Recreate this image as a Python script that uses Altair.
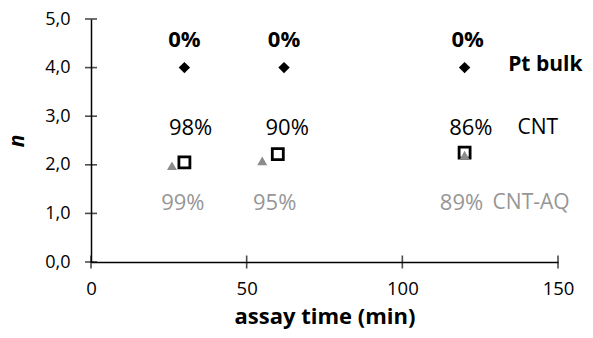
import altair as alt
import pandas as pd

# --- data ---
pt_x = [30, 62, 120]
pt_y = [4.0, 4.0, 4.0]
cnt_x = [30, 60, 120]
cnt_y = [2.05, 2.22, 2.25]
aq_x = [26, 55, 120]
aq_y = [1.98, 2.08, 2.20]

pt_pct = ["0%", "0%", "0%"]
pt_lab_x = [30, 62, 121]
pt_lab_y = [4.57, 4.57, 4.57]
cnt_pct = ["98%", "90%", "86%"]
cnt_lab_x = [32, 63, 122]
cnt_lab_y = [2.76, 2.76, 2.76]
aq_pct = ["99%", "95%", "89%"]
aq_lab_x = [29.5, 59, 119]
aq_lab_y = [1.21, 1.21, 1.21]

series_names = ["Pt bulk", "CNT", "CNT-AQ"]
name_x = [134, 137, 129]
name_y = [4.05, 2.76, 1.21]

x_ticks = [0, 50, 100, 150]
y_ticks = [0, 1, 2, 3, 4, 5]

FONT = "Open Sans"
GRAY = "#8c8c8c"
TGRAY = "#969696"

xs = alt.Scale(domain=[0, 150], nice=False)
ys = alt.Scale(domain=[0, 5], nice=False)

x_axis = alt.Axis(values=x_ticks, title="assay time (min)", grid=False, ticks=False,
                  domainColor="black", domainWidth=1.5, labelFont=FONT,
                  labelFontSize=18.5, labelColor="black", labelPadding=17,
                  titleFont=FONT, titleFontSize=22, titleFontWeight="bold",
                  titleColor="black", titlePadding=9, labelFlush=False)
y_axis = alt.Axis(values=y_ticks, title="n", grid=False, ticks=False,
                  labelExpr="replace(format(datum.value, '.1f'), '.', ',')",
                  domainColor="black", domainWidth=1.5, labelFont=FONT,
                  labelFontSize=18, labelColor="black", labelPadding=21,
                  titleFont=FONT, titleFontSize=21, titleFontWeight="bold",
                  titleFontStyle="italic", titleColor="black", titlePadding=17,
                  labelFlush=False)

pt_df = pd.DataFrame({"x": pt_x, "y": pt_y})
cnt_df = pd.DataFrame({"x": cnt_x, "y": cnt_y})
aq_df = pd.DataFrame({"x": aq_x, "y": aq_y})
yt_df = pd.DataFrame({"y": y_ticks, "x": [0] * len(y_ticks)})
xt_df = pd.DataFrame({"x": x_ticks, "y": [0] * len(x_ticks)})


def X():
    return alt.X("x:Q", scale=xs)


def Y():
    return alt.Y("y:Q", scale=ys)


pt_pts = alt.Chart(pt_df).mark_point(shape="diamond", filled=True, color="black",
                                     size=130, opacity=1).encode(
    x=alt.X("x:Q", scale=xs, axis=x_axis), y=alt.Y("y:Q", scale=ys, axis=y_axis))
cnt_pts = alt.Chart(cnt_df).mark_point(shape="square", filled=False, color="black",
                                       strokeWidth=2.8, size=121, opacity=1).encode(
    x=X(), y=Y())
aq_pts = alt.Chart(aq_df).mark_point(shape="triangle-up", filled=True, color=GRAY,
                                     size=100, opacity=1).encode(x=X(), y=Y())

# crossing tick marks at the axis tick values
y_tick_marks = alt.Chart(yt_df).mark_tick(orient="horizontal", color="black",
                                          size=12, thickness=1.6).encode(
    x=X(), y=Y())
x_tick_marks = alt.Chart(xt_df).mark_tick(orient="vertical", color="black",
                                          size=13, thickness=1.6).encode(
    x=X(), y=Y())


def labels(xv, yv, txt, color, weight, size, align="center"):
    df = pd.DataFrame({"x": xv, "y": yv, "t": txt})
    return alt.Chart(df).mark_text(font=FONT, fontSize=size, color=color,
                                   fontWeight=weight, align=align,
                                   baseline="middle").encode(
        x=X(), y=Y(), text="t:N")


pt_lab = labels(pt_lab_x, pt_lab_y, pt_pct, "black", "bold", 22)
cnt_lab = labels(cnt_lab_x, cnt_lab_y, cnt_pct, "black", "normal", 22)
aq_lab = labels(aq_lab_x, aq_lab_y, aq_pct, TGRAY, "normal", 22)
name_pt = labels([name_x[0]], [name_y[0]], [series_names[0]], "black", "bold", 21, "left")
name_cnt = labels([name_x[1]], [name_y[1]], [series_names[1]], "black", "normal", 21, "left")
name_aq = labels([name_x[2]], [name_y[2]], [series_names[2]], TGRAY, "normal", 21, "left")

chart = alt.layer(y_tick_marks, x_tick_marks, pt_pts, cnt_pts, aq_pts,
                  pt_lab, cnt_lab, aq_lab, name_pt, name_cnt, name_aq).properties(
    width=467, height=243,
    autosize=alt.AutoSizeParams(type="none"),
    padding={"left": 83, "top": 11, "right": 27, "bottom": 68},
).configure_view(stroke=None).configure_axis(zindex=0)

chart.save("out.html", embed_options={"renderer": "svg", "actions": False})
